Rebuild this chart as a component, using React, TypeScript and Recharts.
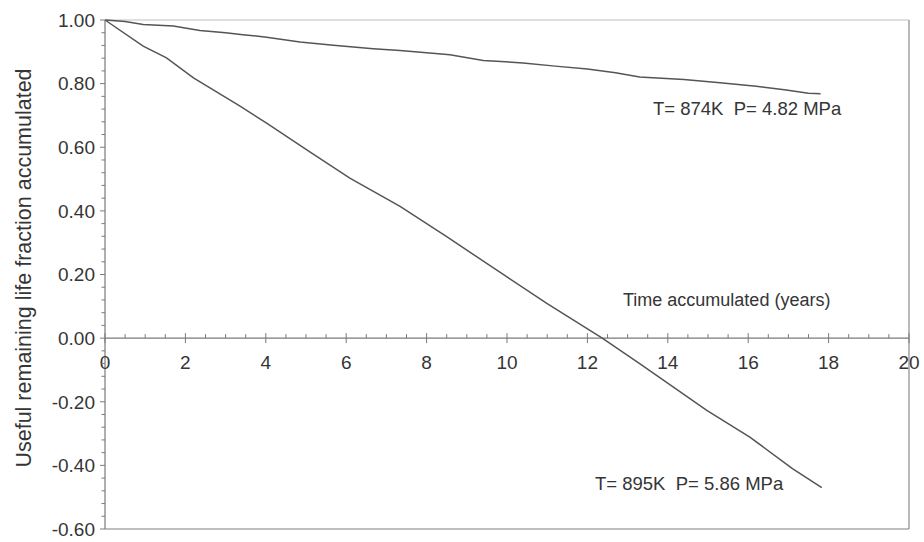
import React from "react";
import {
  Customized,
  Line,
  LineChart,
  ReferenceLine,
  XAxis,
  YAxis,
} from "recharts";

// T = 874 K, P = 4.82 MPa
const years874 = [
  0, 0.5, 0.95, 1.7, 2.36, 3.0, 3.43, 4.02, 4.85, 5.68, 6.67, 7.34, 8.0, 8.58,
  9.41, 10.4, 11.2, 12.0, 12.7, 13.3, 14.4, 15.3, 16.2, 16.9, 17.5, 17.8,
];
const life874 = [
  1.0, 0.995, 0.986, 0.981, 0.967, 0.96, 0.954, 0.946, 0.931, 0.921, 0.91,
  0.904, 0.897, 0.891, 0.873, 0.865, 0.855, 0.846, 0.834, 0.821, 0.813, 0.803,
  0.792, 0.781, 0.77, 0.768,
];

// T = 895 K, P = 5.86 MPa
const years895 = [
  0, 0.95, 1.53, 2.2, 3.36, 4.02, 5.02, 6.09, 7.34, 8.5, 9.99, 10.99, 12.36,
  13.3, 14.97, 16.04, 17.1, 17.83,
];
const life895 = [
  1.0, 0.918, 0.881, 0.818, 0.729, 0.676, 0.592, 0.503, 0.414, 0.319, 0.193,
  0.109, 0.001, -0.08, -0.227, -0.311, -0.41, -0.47,
];

const seriesLabels = ["T= 874K  P= 4.82 MPa", "T= 895K  P= 5.86 MPa"];
const xTitle = "Time accumulated (years)";
const yTitle = "Useful remaining life fraction accumulated";

const X_MIN = 0;
const X_MAX = 20;
const Y_MIN = -0.6;
const Y_MAX = 1.0;

// 0.5-year minor ticks, labelled every 2 years
const xTicks = Array.from({ length: 41 }, (_, i) => i * 0.5);
// 0.04 minor ticks, labelled every 0.20
const yTicks = Array.from({ length: 41 }, (_, i) =>
  Math.round((Y_MIN + i * 0.04) * 100) / 100
);

const WIDTH = 924;
const HEIGHT = 542;
const MARGIN = { top: 20, right: 15, bottom: 12, left: 10 };
const X_AXIS_HEIGHT = 1;
const Y_AXIS_WIDTH = 95;
const PLOT_LEFT = MARGIN.left + Y_AXIS_WIDTH;
const PLOT_TOP = MARGIN.top;
const PLOT_HEIGHT = HEIGHT - MARGIN.top - MARGIN.bottom - X_AXIS_HEIGHT;
// the time axis crosses at zero
const ZERO_Y = PLOT_TOP + (PLOT_HEIGHT * Y_MAX) / (Y_MAX - Y_MIN);

const FONT = "'Liberation Sans', Arial, Helvetica, sans-serif";
const TEXT = "#353535";
const AXIS = "#7a7a7a";
const LINE = "#555";

const toData = (xs: number[], ys: number[]) =>
  xs.map((t, i) => ({ t, v: ys[i] }));

const data874 = toData(years874, life874);
const data895 = toData(years895, life895);

const XTick = (props: any) => {
  const { x, payload } = props;
  const v = payload.value as number;
  const major = v % 2 === 0;
  return (
    <g>
      <line
        x1={x}
        x2={x}
        y1={ZERO_Y - (major ? 5 : 4)}
        y2={ZERO_Y + (major ? 5 : 0)}
        stroke={AXIS}
        strokeWidth={1}
      />
      {major && (
        <text
          x={x}
          y={ZERO_Y + 31}
          textAnchor="middle"
          fontSize={19}
          fill={TEXT}
        >
          {v}
        </text>
      )}
    </g>
  );
};

const YTick = (props: any) => {
  const { y, payload, index } = props;
  const major = index % 5 === 0;
  return (
    <g>
      <line
        x1={PLOT_LEFT - (major ? 5 : 3.5)}
        x2={PLOT_LEFT}
        y1={y}
        y2={y}
        stroke={AXIS}
        strokeWidth={1}
      />
      {major && (
        <text
          x={PLOT_LEFT - 10}
          y={y}
          dy="0.36em"
          textAnchor="end"
          fontSize={19}
          fill={TEXT}
        >
          {(payload.value as number).toFixed(2)}
        </text>
      )}
    </g>
  );
};

const Annotations = () => (
  <g fill={TEXT}>
    <text
      x={31}
      y={268}
      transform="rotate(-90 31 268)"
      textAnchor="middle"
      fontSize={21.5}
    >
      {yTitle}
    </text>
    <text x={623} y={306} fontSize={18}>
      {xTitle}
    </text>
    <text x={653} y={115} fontSize={18.5} xmlSpace="preserve">
      {seriesLabels[0]}
    </text>
    <text x={595} y={490} fontSize={18.5} xmlSpace="preserve">
      {seriesLabels[1]}
    </text>
  </g>
);

export default function App() {
  return (
    <div
      style={{
        position: "absolute",
        left: 0,
        top: 0,
        width: WIDTH,
        height: HEIGHT,
        background: "#fff",
        fontFamily: FONT,
      }}
    >
      <LineChart width={WIDTH} height={HEIGHT} margin={MARGIN}>
        <XAxis
          dataKey="t"
          type="number"
          domain={[X_MIN, X_MAX]}
          ticks={xTicks}
          interval={0}
          height={X_AXIS_HEIGHT}
          axisLine={false}
          tickLine={false}
          tick={XTick}
        />
        <YAxis
          type="number"
          domain={[Y_MIN, Y_MAX]}
          ticks={yTicks}
          interval={0}
          width={Y_AXIS_WIDTH}
          axisLine={{ stroke: AXIS, strokeWidth: 1.2 }}
          tickLine={false}
          tick={YTick}
        />
        <ReferenceLine y={Y_MAX} stroke="#d4d4d4" strokeWidth={1.5} />
        <ReferenceLine y={Y_MIN} stroke="#a8a8a8" strokeWidth={1.5} />
        <ReferenceLine x={X_MAX} stroke="#8a8a8a" strokeWidth={1.2} />
        <ReferenceLine y={0} stroke={AXIS} strokeWidth={1.2} />
        <Line
          data={data874}
          dataKey="v"
          type="linear"
          stroke={LINE}
          strokeWidth={1.5}
          dot={false}
          isAnimationActive={false}
        />
        <Line
          data={data895}
          dataKey="v"
          type="linear"
          stroke={LINE}
          strokeWidth={1.5}
          dot={false}
          isAnimationActive={false}
        />
        <Customized component={Annotations} />
      </LineChart>
    </div>
  );
}
